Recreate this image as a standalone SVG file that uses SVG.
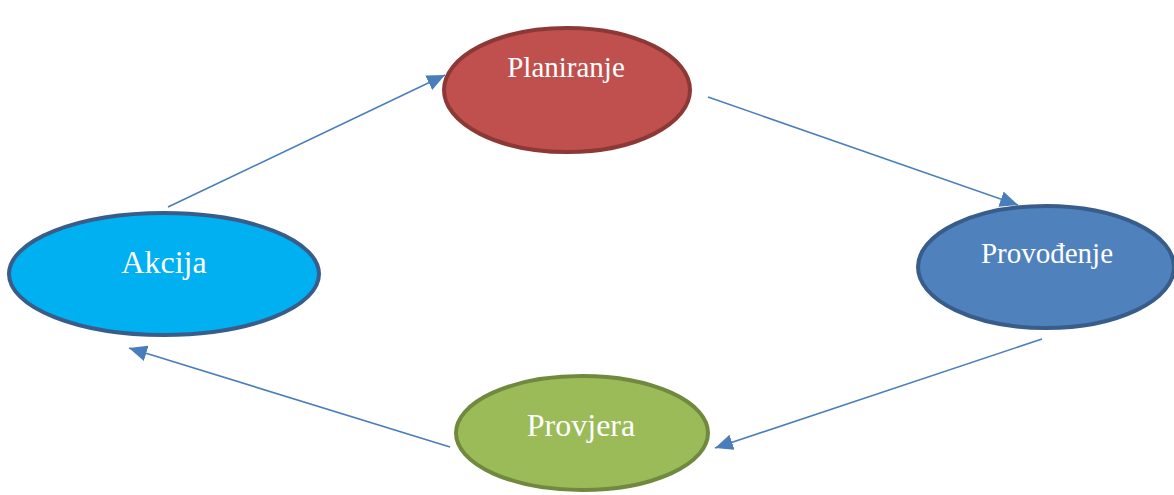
<svg xmlns="http://www.w3.org/2000/svg" width="1174" height="495" viewBox="0 0 1174 495">
<style>
.lbl{font-family:"Liberation Serif","Times New Roman",serif;fill:#ffffff;text-anchor:middle}
.con{stroke:#4A7EBB;stroke-width:1.6;fill:none;marker-end:url(#ah)}
.node{stroke-width:4}
</style>
<defs>
<marker id="ah" markerUnits="userSpaceOnUse" markerWidth="20" markerHeight="16" viewBox="0 0 20 16" refX="18" refY="8" orient="auto">
<path d="M0,0 L18,8 L0,16 Z" fill="#4A7EBB"/>
</marker>
</defs>
<rect width="1174" height="495" fill="#ffffff"/>
<g id="connectors">
<line class="con" x1="168" y1="207" x2="445" y2="75"/>
<line class="con" x1="708" y1="97" x2="1018" y2="205"/>
<line class="con" x1="1042" y1="339" x2="715" y2="448"/>
<line class="con" x1="450" y1="447" x2="129" y2="348"/>
</g>
<g id="planiranje">
<ellipse class="node" cx="567" cy="90" rx="123" ry="62" fill="#C0504D" stroke="#8C3836"/>
<text class="lbl" x="566" y="77" font-size="29">Planiranje</text>
</g>
<g id="provodenje">
<ellipse class="node" cx="1046" cy="267" rx="128" ry="61" fill="#4F81BD" stroke="#385D8A"/>
<text class="lbl" x="1047" y="263" font-size="29">Provođenje</text>
</g>
<g id="provjera">
<ellipse class="node" cx="582" cy="433" rx="126" ry="57" fill="#9BBB59" stroke="#71893F"/>
<text class="lbl" x="581" y="436" font-size="32">Provjera</text>
</g>
<g id="akcija">
<ellipse class="node" cx="164" cy="274" rx="155" ry="61" fill="#00B0F0" stroke="#385D8A"/>
<text class="lbl" x="164" y="273" font-size="32">Akcija</text>
</g>
</svg>
